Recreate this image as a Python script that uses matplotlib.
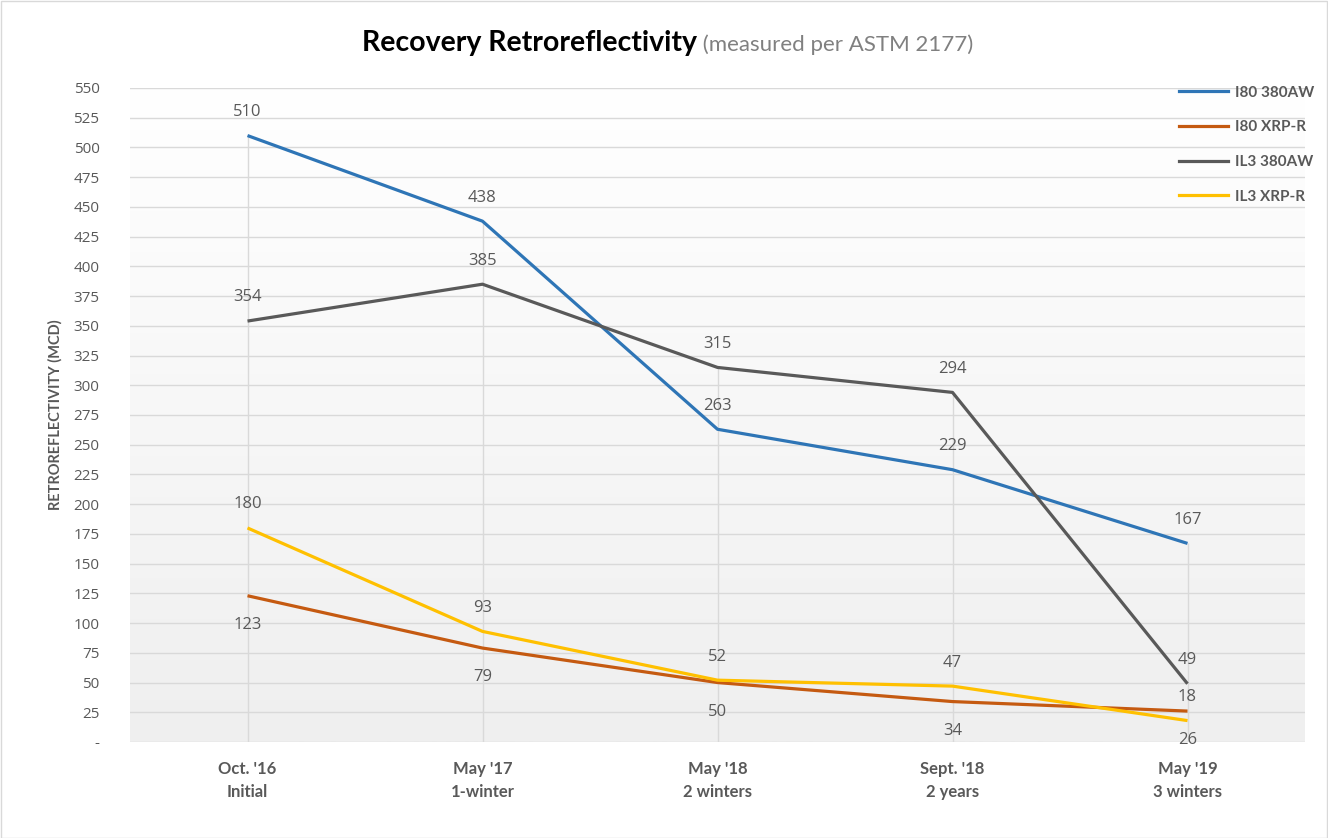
import matplotlib
matplotlib.use("Agg")
import matplotlib.pyplot as plt
import numpy as np
from matplotlib.lines import Line2D
from matplotlib.colors import LinearSegmentedColormap

categories = ["Oct. '16\nInitial", "May '17\n1-winter", "May '18\n2 winters", "Sept. '18\n2 years", "May '19\n3 winters"]
series_names = ["I80 380AW", "I80 XRP-R", "IL3 380AW", "IL3 XRP-R"]
i80_380aw = [510, 438, 263, 229, 167]
i80_xrpr = [123, 79, 50, 34, 26]
il3_380aw = [354, 385, 315, 294, 49]
il3_xrpr = [180, 93, 52, 47, 18]
yticks = list(range(0, 551, 25))
ytick_labels = ["-"] + [str(v) for v in yticks[1:]]

colors = ["#2E75B6", "#C55A11", "#595959", "#FFC000"]
label_pos = ["above", "below", "above", "above"]
all_series = [i80_380aw, i80_xrpr, il3_380aw, il3_xrpr]

txt_gray = "#595959"
W, H = 1328, 838
fig = plt.figure(figsize=(W / 100, H / 100), dpi=100)
fig.patch.set_facecolor("white")
ax = fig.add_axes([130 / W, 1 - 742 / H, (1305 - 130) / W, (742 - 88) / H])

x = np.arange(len(categories))

# gradient background: white at top, light gray at bottom
grad = np.linspace(0, 1, 256).reshape(-1, 1)
cmap = LinearSegmentedColormap.from_list("bg", ["#ffffff", "#efefef"])
ax.imshow(grad, extent=[-0.5, len(categories) - 0.5, 0, 550], origin="upper",
          cmap=cmap, aspect="auto", zorder=0)
ax.set_xlim(-0.5, len(categories) - 0.5)
ax.set_ylim(0, 550)

for v in yticks:
    ax.axhline(v, color="#d9d9d9", lw=1.0, zorder=1)

# drop lines from axis to highest point of each category
maxvals = [max(vals) for vals in zip(*all_series)]
ax.vlines(x, 0, maxvals, color="#d9d9d9", lw=1.0, zorder=1)

for name, vals, c, pos in zip(series_names, all_series, colors, label_pos):
    ax.plot(x, vals, color=c, lw=2.3, zorder=3, solid_capstyle="butt")
    for xi, v in zip(x, vals):
        off = 17 if pos == "above" else -21
        ax.annotate(str(v), (xi, v), xytext=(0, off), textcoords="offset points",
                    ha="center", va="center", fontsize=12, color=txt_gray,
                    family="Open Sans", zorder=4)

for s in ax.spines.values():
    s.set_visible(False)
ax.set_yticks(yticks)
ax.set_yticklabels(ytick_labels, fontsize=11, color=txt_gray, family="Open Sans")
ax.set_xticks(x)
ax.set_xticklabels(categories, fontsize=12, color=txt_gray, fontweight="bold", family="Lato", linespacing=1.5)
ax.tick_params(axis="y", length=0, pad=22)
ax.tick_params(axis="x", length=0, pad=14)
ax.set_ylabel("RETROREFLECTIVITY (MCD)", fontsize=10.5, fontweight="bold", color=txt_gray, family="Lato", labelpad=8)

handles = [Line2D([0], [0], color=c, lw=2.3) for c in colors]
leg = fig.legend(handles, series_names, loc="upper left", bbox_to_anchor=(1165 / W, 1 - 72 / H),
                 frameon=False, handlelength=3.2, handletextpad=0.5, labelspacing=1.35,
                 prop={"family": "Lato", "weight": "bold", "size": 11})
for t in leg.get_texts():
    t.set_color(txt_gray)

# title in two parts
fig.canvas.draw()
r = fig.canvas.get_renderer()
t1 = fig.text(0, 0, "Recovery Retroreflectivity", fontsize=20.5, fontweight="bold", family="Lato", color="black")
t2 = fig.text(0, 0, " (measured per ASTM 2177)", fontsize=16, family="Lato", color="#808080")
w1 = t1.get_window_extent(r).width
w2 = t2.get_window_extent(r).width
total = w1 + w2
x0 = 668 - total / 2
ty = 1 - 51 / H
t1.set_position((x0 / W, ty))
t1.set_va("baseline")
t2.set_position(((x0 + w1) / W, ty))
t2.set_va("baseline")

# border
fig.patches.append(plt.Rectangle((0.5 / W, 0.5 / H), 1 - 1.5 / W, 1 - 1.5 / H, transform=fig.transFigure,
                                 fill=False, edgecolor="#d9d9d9", lw=1))

fig.savefig("out.png", dpi=100)
